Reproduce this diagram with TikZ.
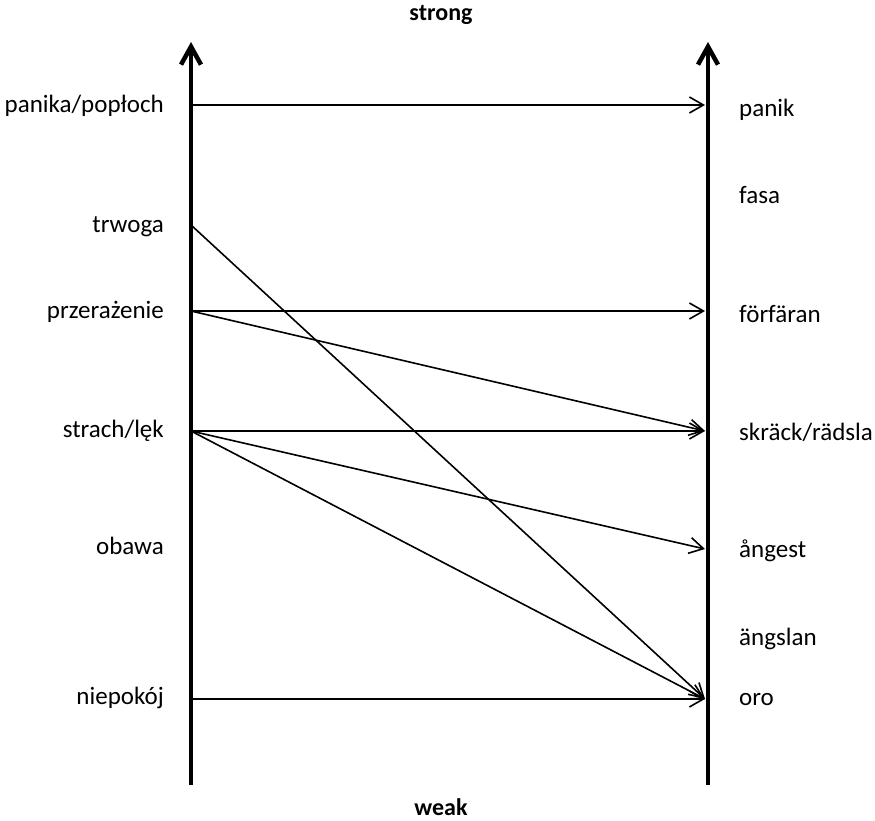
\documentclass[tikz,border=0pt]{standalone}
\usepackage{fontspec}
\setmainfont{Carlito}
\usetikzlibrary{arrows.meta}
\begin{document}
\begin{tikzpicture}[x=1pt,y=-1pt,
  lbl/.style={inner sep=0pt,font=\fontsize{25}{29}\selectfont},
  leftlbl/.style={lbl,anchor=base east},
  rightlbl/.style={lbl,anchor=base west},
  axisline/.style={line width=4.5pt,-{Straight Barb[length=18pt,width=20pt]}},
  link/.style={line width=1.6pt,-{Straight Barb[length=14pt,width=16pt]}}]
\useasboundingbox (0,0) rectangle (875,821);
% axes
\coordinate (lb) at (191,785);
\coordinate (lt) at (191,42);
\coordinate (rb) at (708,785);
\coordinate (rt) at (708,42);
\draw[axisline] (lb) -- (lt);
\draw[axisline] (rb) -- (rt);
\node[lbl,font=\fontsize{24}{28}\selectfont\bfseries,anchor=base] (strong) at (441,21) {strong};
\node[lbl,font=\fontsize{24}{28}\selectfont\bfseries,anchor=base] (weak) at (441,815) {weak};
% left labels
\node[leftlbl] (panika) at (164,113) {panika/popłoch};
\node[leftlbl] (trwoga) at (164,232) {trwoga};
\node[leftlbl] (przer) at (164,318) {przerażenie};
\node[leftlbl] (strach) at (164,437) {strach/lęk};
\node[leftlbl] (obawa) at (164,554) {obawa};
\node[leftlbl] (niep) at (164,704) {niepokój};
% right labels
\node[rightlbl] (panik) at (739,117) {panik};
\node[rightlbl] (fasa) at (739,204) {fasa};
\node[rightlbl] (forf) at (739,322) {förfäran};
\node[rightlbl] (skrack) at (739,440) {skräck/rädsla};
\node[rightlbl] (angest) at (739,557) {ångest};
\node[rightlbl] (angslan) at (739,645) {ängslan};
\node[rightlbl] (oro) at (739,705) {oro};
% endpoints
\coordinate (Lpanika) at (191,105);
\coordinate (Ltrwoga) at (191,225);
\coordinate (Lprzer) at (191,311);
\coordinate (Lstrach) at (191,431);
\coordinate (Lniep) at (191,699);
\coordinate (Rpanik) at (705,105);
\coordinate (Rforf) at (705,311);
\coordinate (Rskrack) at (705,431);
\coordinate (Rangest) at (705,549);
\coordinate (Roro) at (705,699);
% links
\draw[link] (Lpanika) -- (Rpanik);
\draw[link] (Ltrwoga) -- (Roro);
\draw[link] (Lprzer) -- (Rforf);
\draw[link] (Lprzer) -- (Rskrack);
\draw[link] (Lstrach) -- (Rskrack);
\draw[link] (Lstrach) -- (Rangest);
\draw[link] (Lstrach) -- (Roro);
\draw[link] (Lniep) -- (Roro);
\end{tikzpicture}
\end{document}
